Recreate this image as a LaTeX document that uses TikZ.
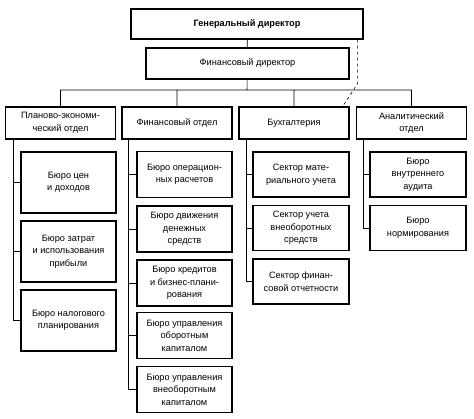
\documentclass[tikz,border=0pt]{standalone}
\usepackage{fontspec}
\setmainfont{Liberation Sans}
\begin{document}
\begin{tikzpicture}[x=1pt,y=-1pt,
  box/.style={draw,line width=1.3pt,align=center,inner sep=1pt,
    font=\fontsize{9.2}{12.5}\selectfont},
  head/.style={box,minimum height=31pt},
  dept/.style={box,minimum width=110pt,minimum height=32pt},
  sub/.style={box,minimum width=95pt,minimum height=46pt},
  tall/.style={box,minimum width=95pt,minimum height=61pt},
  link/.style={line width=0.6pt}]
\useasboundingbox (0,0) rectangle (474,419);
%%% top %%%

  \node (GD) at (247,24) [head,minimum width=232pt,minimum height=30pt,font=\fontsize{9.2}{12.5}\selectfont\bfseries] {Генеральный директор};
  \node (FD) at (247.5,63.5) [head,minimum width=203pt] {Финансовый директор};
  \coordinate (bar) at (247,90);

%%% departments %%%
  \node (P) at (60.5,123) [dept] {Планово-экономи-\\ческий отдел};
  \node (F) at (177,123) [dept] {Финансовый отдел};
  \node (B) at (294,123) [dept] {Бухгалтерия};
  \node (A) at (411.5,123) [dept] {Аналитический\\отдел};

%%% bureaus %%%
  \node (P1) at (68.5,182.5) [tall] {Бюро цен\\и доходов};
  \node (P2) at (68.5,251.5) [tall] {Бюро затрат\\и использования\\прибыли};
  \node (P3) at (68.5,320.5) [tall] {Бюро налогового\\планирования};

  \node (F1) at (184.5,174.5) [sub] {Бюро операцион-\\ных расчетов};
  \node (F2) at (184.5,229) [sub] {Бюро движения\\денежных\\средств};
  \node (F3) at (184.5,283) [sub] {Бюро кредитов\\и бизнес-плани-\\рования};
  \node (F4) at (184.5,335.5) [sub] {Бюро управления\\оборотным\\капиталом};
  \node (F5) at (184.5,389.5) [sub] {Бюро управления\\внеоборотным\\капиталом};

  \node (B1) at (301,174.5) [sub,minimum width=96pt,minimum height=45pt] {Сектор мате-\\риального учета};
  \node (B2) at (301,228) [sub,minimum width=96pt,minimum height=45pt] {Сектор учета\\внеоборотных\\средств};
  \node (B3) at (301,281.5) [sub,minimum width=96pt,minimum height=45pt] {Сектор финан-\\совой отчетности};

  \node (A1) at (418,174.5) [sub,minimum width=96pt,minimum height=45pt] {Бюро\\внутреннего\\аудита};
  \node (A2) at (418,228) [sub,minimum width=96pt,minimum height=45pt] {Бюро\\нормирования};

\draw[link] (GD) -- (FD)
   (FD) -- (bar)
   (P.north) |- (bar) -| (A.north)
   (F.north) |- (bar) -| (B.north);

\draw[link, dashed]
   ([xshift=-6pt]GD.south east) -- ++(0,44) -- ([xshift=-7pt]B.north east);

\draw[link]
   ([xshift=8pt]P.south west) |- (P1.west)
   ([xshift=8pt]P.south west) |- (P2.west)
   ([xshift=8pt]P.south west) |- (P3.west)
   ([xshift=7pt]F.south west) |- (F1.west)
   ([xshift=7pt]F.south west) |- (F2.west)
   ([xshift=7pt]F.south west) |- (F3.west)
   ([xshift=7pt]F.south west) |- (F4.west)
   ([xshift=7pt]F.south west) |- (F5.west)
   ([xshift=8pt]B.south west) |- (B1.west)
   ([xshift=8pt]B.south west) |- (B2.west)
   ([xshift=8pt]B.south west) |- (B3.west)
   ([xshift=7pt]A.south west) |- (A1.west)
   ([xshift=7pt]A.south west) |- (A2.west);
\end{tikzpicture}
\end{document}
